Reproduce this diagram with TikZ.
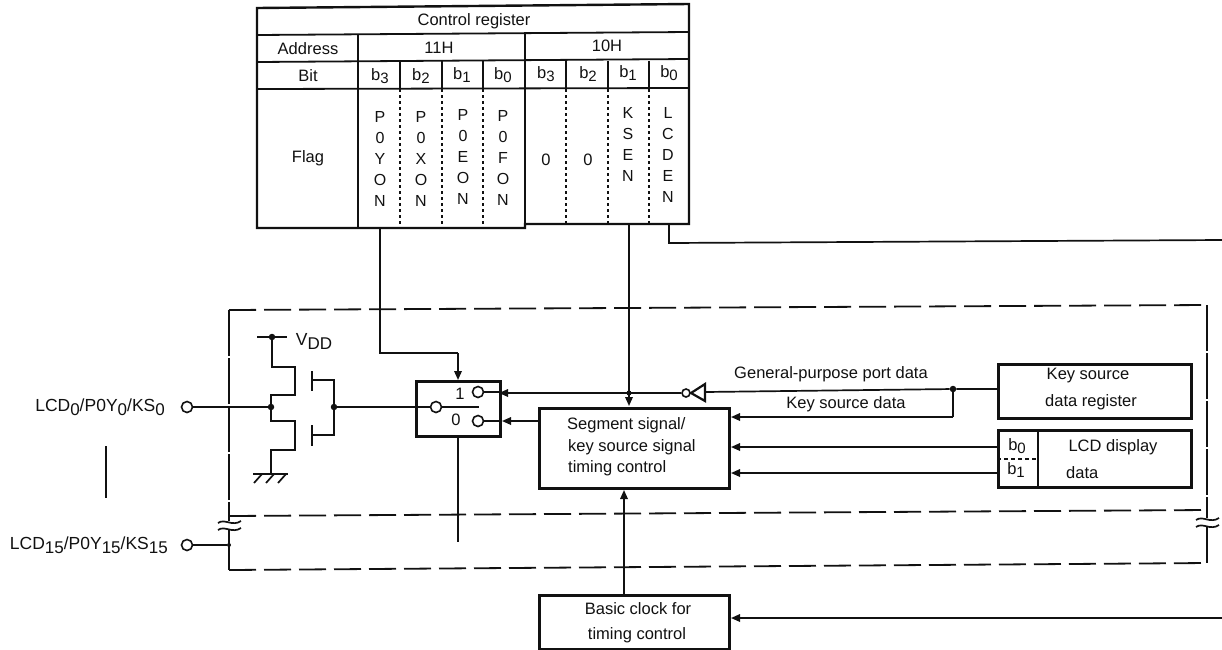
\documentclass[tikz,border=0pt]{standalone}
\usepackage{fontspec}
\setmainfont{Liberation Sans}
\usetikzlibrary{arrows.meta}
\definecolor{ink}{HTML}{111111}
\newcommand{\lo}[1]{\raisebox{-3.5pt}{\fontsize{15}{15}\selectfont #1}}
\newcommand{\lob}[1]{\raisebox{-4pt}{\fontsize{17}{17}\selectfont #1}}
\tikzset{
  txt/.style={inner sep=0pt,text=ink,font=\fontsize{16.5}{20}\selectfont},
  pinlabel/.style={txt,anchor=east,font=\fontsize{17.5}{20}\selectfont},
  stack/.style={txt,align=center,anchor=north,font=\fontsize{16}{21}\selectfont},
  wire/.style={draw=ink,line width=1.7pt},
  tline/.style={draw=ink,line width=1.8pt},
  frameline/.style={draw=ink,line width=2.4pt},
  dotline/.style={draw=ink,line width=1.5pt,dash pattern=on 3pt off 3pt},
  arr/.style={wire,-{Triangle[length=9pt,width=7.5pt]}},
  hv/.style={draw=ink,line width=1.8pt,dash pattern=on 27pt off 8pt},
  hvleft/.style={draw=ink,line width=1.8pt,dash pattern=on 46pt off 2pt},
  heavy/.style={draw=ink,line width=3pt,fill=white,inner sep=0pt,anchor=north west},
  pin/.style={circle,draw=ink,line width=1.6pt,fill=white,minimum size=11pt,inner sep=0pt},
  jn/.style={circle,fill=ink,minimum size=6.5pt,inner sep=0pt},
}
\begin{document}
\begin{tikzpicture}[x=1pt,y=-1pt]
\useasboundingbox (0,0) rectangle (1222,649);
% dashed frames
\coordinate (fa) at (229,310); \coordinate (fb) at (1207,305);
\coordinate (fc) at (229,516); \coordinate (fd) at (1207,510);
\coordinate (fe) at (229,570); \coordinate (ff) at (1207,563);
\path[hv] (fa) -- (fb);
\path[hv] (fc) -- (fd);
\path[hv] (fe) -- (ff);
\path[hvleft] (fa) -- (fc);
\path[hvleft] (fb) -- (fd);
\path[tline] (fc) -- (fe);
\path[tline] (fd) -- (ff);
% break marks
\foreach \bx/\by in {229/522, 1207/519}{
  \fill[white] (\bx-8,\by-1) rectangle (\bx+8,\by+8);
  \draw[ink,line width=1.7pt] (\bx-11,\by+1) .. controls (\bx-4,\by-4) and (\bx+3,\by+5) .. (\bx+12,\by-1);
  \draw[ink,line width=1.7pt] (\bx-11,\by+8) .. controls (\bx-4,\by+3) and (\bx+3,\by+12) .. (\bx+12,\by+6);
}
% control register table
\path[frameline] (257,8) -- (689,4) -- (689,224) -- (525,224) -- (525,228) -- (257,228) -- cycle;
\path[tline] (257,35) -- (689,32);
\path[tline] (257,62) -- (689,59);
\path[tline] (257,89) -- (689,88);
\path[tline] (358,35) -- (358,228);
\path[tline] (525,32) -- (525,224);
\foreach \cx in {400,442,483,566,608,649}{
  \path[tline] (\cx,61) -- (\cx,89);
  \path[dotline] (\cx,89) -- (\cx,226);
}
\node[txt] (title) at (474,21) {Control register};
\node[txt] (addr) at (308,49) {Address};
\node[txt] (a11) at (439,48) {11H};
\node[txt] (a10) at (607,46) {10H};
\node[txt] (bit) at (308,76) {Bit};
\node[txt] (b3a) at (380,76) {b\lo{3}};
\node[txt] (b2a) at (421,76) {b\lo{2}};
\node[txt] (b1a) at (462,75) {b\lo{1}};
\node[txt] (b0a) at (503,75) {b\lo{0}};
\node[txt] (b3b) at (546,74) {b\lo{3}};
\node[txt] (b2b) at (588,74) {b\lo{2}};
\node[txt] (b1b) at (628,73) {b\lo{1}};
\node[txt] (b0b) at (669,73) {b\lo{0}};
\node[txt] (flag) at (308,158) {Flag};
\node[stack] (fy) at (380,111) {P\\0\\Y\\O\\N};
\node[stack] (fx) at (421,111) {P\\0\\X\\O\\N};
\node[stack] (fe2) at (463,109) {P\\0\\E\\O\\N};
\node[stack] (ff2) at (503,110) {P\\0\\F\\O\\N};
\node[txt] (z1) at (546,160) {0};
\node[txt] (z0) at (588,160) {0};
\node[stack] (ks) at (628,107) {K\\S\\E\\N};
\node[stack] (lc) at (668,107) {L\\C\\D\\E\\N};
% connector start points on table
\coordinate (yout) at (380,228);
\coordinate (kout) at (629,224);
\coordinate (lout) at (669,224);
% boxes
\node[heavy,minimum width=84pt,minimum height=55pt] (sw) at (415,380) {};
\node[heavy,minimum width=190pt,minimum height=80pt] (seg) at (538,407) {};
\node[heavy,minimum width=193pt,minimum height=54pt] (keyreg) at (997,363) {};
\node[heavy,minimum width=193pt,minimum height=57pt] (lcd) at (997,429) {};
\node[heavy,minimum width=190pt,minimum height=54pt] (clk) at (538,594) {};
\node[txt,anchor=west] (segt1) at (567,425) {Segment signal/};
\node[txt,anchor=west] (segt2) at (568,447) {key source signal};
\node[txt,anchor=west] (segt3) at (568,468) {timing control};
\node[txt] (krt1) at (1088,376) {Key source};
\node[txt] (krt2) at (1091,402) {data register};
\node[txt] (lcdt1) at (1113,447) {LCD display};
\node[txt,anchor=west] (lcdt2) at (1066,473) {data};
\node[txt] (clkt1) at (638,609) {Basic clock for};
\node[txt] (clkt2) at (637,635) {timing control};
\node[txt] (gpd) at (831,374) {General-purpose port data};
\node[txt] (ksd) at (846,404) {Key source data};
\path[tline] (1038,429) -- (1038,486);
\path[draw=ink,line width=1.4pt,dash pattern=on 4pt off 3pt] (997,459) -- (1038,459);
\node[txt] (lb0) at (1017,446) {b\lo{0}};
\node[txt] (lb1) at (1016,470) {b\lo{1}};
% switch interior
\node[pin] (swc) at (436,407) {};
\node[pin] (sw1) at (478,392) {};
\node[pin] (sw0) at (478,421) {};
\node[txt] (one) at (460,394) {1};
\node[txt] (zero) at (456,420) {0};
\coordinate (blade) at (479,407);
\path[wire] (swc) -- (blade);
% control connectors
\coordinate (swtopbend) at (380,353);
\coordinate (swtopmid) at (458,353);
\path[wire] (yout) -- (swtopbend) -- (swtopmid);
\path[arr] (swtopmid) -- (458,380);
\path[arr] (kout) -- (629,406);
\coordinate (lbend) at (669,243);
\coordinate (lendb) at (1222,240);
\path[wire] (lout) -- (lbend) -- (lendb);
% data path
\node[circle,draw=ink,line width=1.6pt,fill=white,minimum size=8pt,inner sep=0pt] (invc) at (686,393) {};
\coordinate (invA) at (705,384); \coordinate (invB) at (705,401); \coordinate (invT) at (691,393);
\path[draw=ink,line width=2.2pt,fill=white] (invA) -- (invB) -- (invT) -- cycle;
\node[jn] (j1) at (953,389) {};
\node[jn,minimum size=5pt] (j2) at (629,393) {};
\path[wire] (keyreg.west |- j1) -- (j1) -- (705,392);
\path[arr] (invc) -- (499,393);
\path[wire] (j1) -- (953,417);
\coordinate (kbend) at (953,417);
\path[arr] (kbend) -- (seg.east |- kbend);
\path[arr] (lcd.west |- 0,447) -- (seg.east |- 0,447);
\path[arr] (lcd.west |- 0,473) -- (seg.east |- 0,473);
\path[arr] (seg.west |- 0,421) -- (sw.east |- 0,421);
\path[wire] (sw1) -- (sw.east |- sw1);
\path[wire] (sw0) -- (sw.east |- sw0);
\path[arr] (clk.north -| 624,0) -- (seg.south -| 624,0);
\coordinate (clkin) at (1222,618);
\path[arr] (clkin) -- (clk.east |- clkin);
\coordinate (swdn) at (458,542);
\path[wire] (sw.south -| swdn) -- (swdn);
% output transistors
\node[pinlabel] (lcd0) at (165,407) {LCD\lob{0}/P0Y\lob{0}/KS\lob{0}};
\node[pinlabel] (lcd15) at (168,545) {LCD\lob{15}/P0Y\lob{15}/KS\lob{15}};
\node[pin] (p0) at (187,407) {};
\node[pin] (p15) at (187,545) {};
\node[jn] (jd) at (271,407) {};
\node[jn] (jg) at (334,407) {};
\node[jn] (jv) at (272,337) {};
\node[jn,minimum size=4pt] (jl) at (229,545) {};
\node[txt,font=\fontsize{17.5}{20}\selectfont] (vdd) at (314,341) {V\lob{DD}};
\path[wire] (p0) -- (jd);
\path[wire] (p15) -- (jl);
\path[wire] (jg) -- (swc);
\coordinate (vl) at (257,337); \coordinate (vr) at (287,337);
\path[wire] (vl) -- (vr);
\coordinate (gnd) at (271,474);
\path[wire] (jv) -- (272,367) -- (295,367) -- (295,395) -- (271,395) -- (jd)
  -- (271,421) -- (295,421) -- (295,450) -- (271,450) -- (gnd);
\path[wire,line width=2.2pt] (253,474) -- (288,474);
\foreach \hx in {262,274,286}{ \path[wire] (\hx,474) -- (\hx-8,483); }
\path[wire] (312,371) -- (312,391);
\path[wire] (312,425) -- (312,446);
\path[wire] (312,380) -- (334,380) -- (334,435) -- (312,435);
\path[wire] (106,446) -- (106,498);
\end{tikzpicture}
\end{document}
